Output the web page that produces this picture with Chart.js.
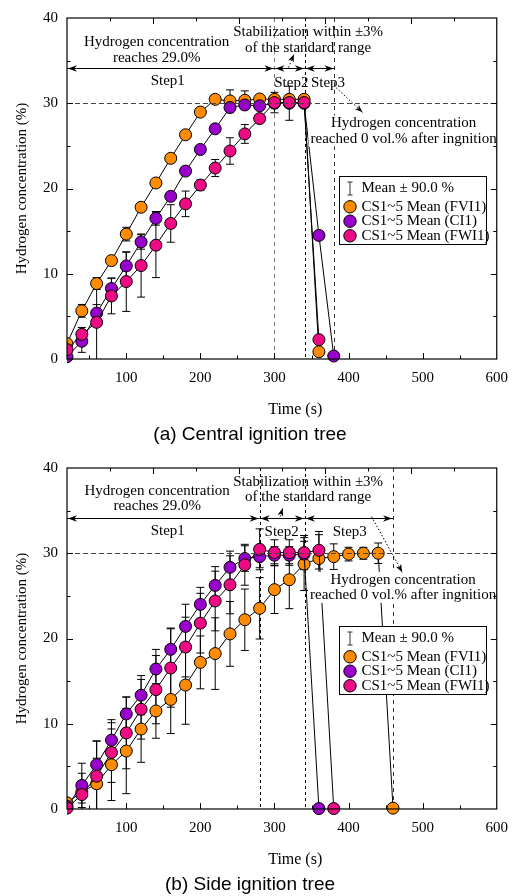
<!DOCTYPE html>
<html>
<head>
<meta charset="utf-8">
<script src="https://cdn.jsdelivr.net/npm/chart.js@4.4.1/dist/chart.umd.min.js"></script>
<style>
  html, body { margin: 0; padding: 0; background: #fff; }
  canvas { display: block; }
</style>
</head>
<body>
<canvas id="chartA" width="518" height="450"></canvas>
<canvas id="chartB" width="518" height="446"></canvas>
<script>
// ---- data ----
const seriesLabels = ["CS1~5 Mean (FVI1)", "CS1~5 Mean (CI1)", "CS1~5 Mean (FWI1)"];
const seriesColors = ["#ff8c00", "#9900cc", "#ee0a84"];
const errorLabel = "Mean \u00b1 90.0 %";

const xTickLabels = [100, 200, 300, 400, 500, 600];
const xMinorTicks = [50, 100, 150, 200, 250, 300, 350, 400, 450, 500, 550];
const yTickLabels = [0, 10, 20, 30, 40];
const yMinorTicks = [5, 10, 15, 20, 25, 30, 35];

// (a) central ignition tree
const timeA_FVI1 = [20, 40, 60, 80, 100, 120, 140, 160, 180, 200, 220, 240, 260, 280, 300, 320, 340, 360];
const meanA_FVI1 = [1.8, 5.65, 8.85, 11.54, 14.65, 17.8, 20.65, 23.54, 26.3, 28.96, 30.46, 30.27, 30.35, 30.5, 30.46, 30.46, 30.46, 0.85];
const errA_FVI1 = [0.4, 0.75, 0.7, 0.3, 0.8, 0.3, 0.3, 0.3, 0.3, 0.3, 0.3, 1.3, 1.1, 0.3, 0.4, 0.5, 0.3, 0.3];

const timeA_CI1 = [20, 40, 60, 80, 100, 120, 140, 160, 180, 200, 220, 240, 260, 280, 300, 320, 340, 360, 380];
const meanA_CI1 = [0.27, 2.08, 5.38, 8.27, 10.92, 13.73, 16.5, 19.08, 22.04, 24.58, 27.0, 29.5, 29.8, 29.7, 30.0, 30.0, 30.0, 14.5, 0.35];
const errA_CI1 = [0.3, 1.3, 1.0, 1.2, 1.6, 0.85, 0.8, 0.3, 0.3, 0.3, 0.3, 0.6, 0.5, 0.3, 0.4, 2.0, 0.3, 0.3, 0.3];

const timeA_FWI1 = [20, 40, 60, 80, 100, 120, 140, 160, 180, 200, 220, 240, 260, 280, 300, 320, 340, 360];
const meanA_FWI1 = [1.1, 2.9, 4.3, 7.4, 9.08, 10.96, 13.35, 15.9, 18.2, 20.4, 22.4, 24.4, 26.4, 28.2, 30.08, 30.08, 30.08, 2.27];
const errA_FWI1 = [0.3, 0.8, 4.5, 2.1, 3.5, 3.7, 3.8, 2.2, 1.5, 0.6, 1.0, 1.55, 1.1, 0.3, 1.2, 0.3, 0.3, 0.3];

// (b) side ignition tree
const timeB_FVI1 = [20, 40, 60, 80, 100, 120, 140, 160, 180, 200, 220, 240, 260, 280, 300, 320, 340, 360, 380, 400, 420, 440, 460];
const meanB_FVI1 = [0.73, 2.0, 2.96, 5.19, 6.8, 9.38, 11.5, 12.85, 14.54, 17.2, 18.23, 20.54, 22.2, 23.54, 25.73, 26.9, 28.73, 29.38, 29.6, 29.9, 30.0, 30.0, 0.1];
const errB_FVI1 = [0.5, 1.3, 3.0, 4.2, 5.0, 3.9, 3.2, 4.0, 4.6, 3.1, 4.2, 3.8, 3.6, 3.6, 2.8, 3.4, 3.1, 2.8, 1.5, 0.8, 0.7, 1.2, 0.3];

const timeB_CI1 = [20, 40, 60, 80, 100, 120, 140, 160, 180, 200, 220, 240, 260, 280, 300, 320, 340, 360];
const meanB_CI1 = [0.3, 2.77, 5.2, 8.08, 11.15, 13.35, 16.42, 18.73, 21.42, 24.0, 26.23, 28.35, 29.38, 29.6, 29.77, 29.77, 29.9, 0.05];
const errB_CI1 = [0.3, 2.6, 2.8, 2.4, 2.0, 2.3, 2.3, 2.5, 2.6, 2.0, 2.2, 1.9, 1.5, 1.3, 1.0, 1.0, 1.5, 0.3];

const timeB_FWI1 = [20, 40, 60, 80, 100, 120, 140, 160, 180, 200, 220, 240, 260, 280, 300, 320, 340, 360, 380];
const meanB_FWI1 = [0.1, 1.69, 3.85, 6.62, 8.92, 11.7, 14.0, 16.54, 19.0, 21.8, 24.4, 26.3, 28.65, 30.46, 30.08, 30.08, 30.08, 30.35, 0.05];
const errB_FWI1 = [0.3, 2.5, 4.1, 3.5, 4.2, 3.5, 4.0, 4.6, 3.5, 3.5, 3.5, 3.4, 2.4, 2.4, 1.5, 1.5, 2.0, 2.2, 0.3];

const SERIF = '"Liberation Serif", "Times New Roman", serif';

function line(ctx, x0, y0, x1, y1) {
  ctx.beginPath();
  ctx.moveTo(x0, y0);
  ctx.lineTo(x1, y1);
  ctx.stroke();
}

function arrowHead(ctx, x, y, dir, len, half) {
  ctx.save();
  ctx.translate(x, y);
  ctx.rotate(dir);
  ctx.beginPath();
  ctx.moveTo(0, 0);
  ctx.lineTo(-len, -half);
  ctx.lineTo(-len * 0.7, 0);
  ctx.lineTo(-len, half);
  ctx.closePath();
  ctx.fill();
  ctx.restore();
}

// error bars, step lines, notes, legend and the boxed frame
const ignitionFigure = {
  id: "ignitionFigure",
  beforeDatasetsDraw(chart, args, o) {
    const { ctx, chartArea: a } = chart;
    const xs = chart.scales.x, ys = chart.scales.y;
    ctx.save();
    ctx.lineWidth = 1;
    o.stepLines.forEach((s) => {
      const px = Math.round(xs.getPixelForValue(s.t)) + 0.5;
      ctx.strokeStyle = s.color;
      ctx.setLineDash(s.dash);
      line(ctx, px, a.top, px, a.bottom);
    });
    ctx.setLineDash([]);
    ctx.beginPath();
    ctx.rect(a.left, a.top - 20, a.right - a.left + 20, a.bottom - a.top + 40);
    ctx.clip();
    ctx.strokeStyle = "#000";
    chart.data.datasets.forEach((ds, di) => {
      const err = o.errors[di];
      ds.data.forEach((p, i) => {
        const e = err[i];
        if (!e) return;
        const px = xs.getPixelForValue(p.x);
        const yt = ys.getPixelForValue(p.y + e);
        const yb = ys.getPixelForValue(Math.max(p.y - e, 0));
        line(ctx, px, yt, px, yb);
        line(ctx, px - 4, yt, px + 4, yt);
        if (p.y - e > 0) line(ctx, px - 4, yb, px + 4, yb);
      });
    });
    ctx.restore();
  },
  afterDatasetsDraw(chart, args, o) {
    const { ctx, chartArea: a } = chart;
    const xs = chart.scales.x, ys = chart.scales.y;
    const X = (t) => xs.getPixelForValue(t);
    const Y = (v) => ys.getPixelForValue(v);
    ctx.save();

    // 30 % reference level
    ctx.strokeStyle = "#444";
    ctx.lineWidth = 1;
    ctx.setLineDash([5, 3]);
    const ry = Math.round(Y(o.refLevel)) + 0.5;
    line(ctx, a.left, ry, a.right, ry);
    ctx.setLineDash([]);

    // text notes
    ctx.font = "15px " + SERIF;
    ctx.textAlign = "center";
    ctx.textBaseline = "middle";
    o.notes.forEach((n) => {
      const cx = X(n.t), cy = Y(n.v);
      const lh = 15.5;
      const y0 = cy - ((n.lines.length - 1) * lh) / 2;
      if (n.bg) {
        const w = Math.max(...n.lines.map((s) => ctx.measureText(s).width)) + 4;
        ctx.fillStyle = "#fff";
        ctx.fillRect(cx - w / 2, y0 - lh / 2, w, lh * n.lines.length);
      }
      ctx.fillStyle = "#000";
      n.lines.forEach((s, k) => ctx.fillText(s, cx, y0 + k * lh));
    });

    // step span arrows
    ctx.strokeStyle = "#000";
    ctx.fillStyle = "#000";
    const ay = Math.round(Y(o.spanLevel)) + 0.5;
    o.spans.forEach(([t0, t1]) => {
      const x0 = X(t0), x1 = X(t1);
      line(ctx, x0, ay, x1, ay);
      arrowHead(ctx, x0 + 1, ay, Math.PI, 9, 3.2);
      arrowHead(ctx, x1 - 1, ay, 0, 9, 3.2);
    });

    // dotted pointers
    o.pointers.forEach((p) => {
      const x0 = X(p.from[0]), y0 = Y(p.from[1]);
      const x1 = X(p.to[0]), y1 = Y(p.to[1]);
      ctx.setLineDash([1.5, 2]);
      line(ctx, x0, y0, x1, y1);
      ctx.setLineDash([]);
      arrowHead(ctx, x1, y1, Math.atan2(y1 - y0, x1 - x0), 8, 3);
    });

    // legend box
    const L = o.legend;
    const lx = Math.round(X(L.from[0])) + 0.5, ly = Math.round(Y(L.from[1])) + 0.5;
    const lr = Math.round(X(L.to[0])) + 0.5, lb = Math.round(Y(L.to[1])) + 0.5;
    ctx.fillStyle = "#fff";
    ctx.fillRect(lx, ly, lr - lx, lb - ly);
    ctx.strokeStyle = "#000";
    ctx.strokeRect(lx, ly, lr - lx, lb - ly);
    ctx.font = "15px " + SERIF;
    ctx.textAlign = "left";
    const mx = lx + 10.5;
    const r0 = ly + L.rows[0];
    ctx.strokeStyle = "#333";
    line(ctx, mx, r0 - 6.5, mx, r0 + 6.5);
    line(ctx, mx - 2.5, r0 - 6.5, mx + 2.5, r0 - 6.5);
    line(ctx, mx - 2.5, r0 + 6.5, mx + 2.5, r0 + 6.5);
    ctx.fillStyle = "#000";
    ctx.fillText(errorLabel, lx + 22, r0);
    chart.data.datasets.forEach((ds, i) => {
      const yy = ly + L.rows[i + 1];
      ctx.beginPath();
      ctx.arc(mx, yy, 6.2, 0, Math.PI * 2);
      ctx.fillStyle = ds.pointBackgroundColor;
      ctx.fill();
      ctx.strokeStyle = "#000";
      ctx.stroke();
      ctx.fillStyle = "#000";
      ctx.fillText(ds.label, lx + 22, yy);
    });

    // frame with inward ticks on all four sides
    ctx.strokeStyle = "#000";
    ctx.lineWidth = 1.2;
    ctx.strokeRect(a.left, a.top, a.right - a.left, a.bottom - a.top);
    ctx.lineWidth = 1;
    xMinorTicks.forEach((t) => {
      const px = Math.round(X(t)) + 0.5;
      line(ctx, px, a.bottom, px, a.bottom - (t % 100 === 0 ? 6 : 3.5));
    });
    for (let k = 1; k < 10; k++) {
      const px = Math.round(a.left + ((a.right - a.left) * k) / 10) + 0.5;
      line(ctx, px, a.top, px, a.top + (k % 2 === 0 ? 6 : 3.5));
    }
    yMinorTicks.forEach((v) => {
      const py = Math.round(Y(v)) + 0.5;
      const len = v % 10 === 0 ? 6 : 3.5;
      line(ctx, a.left, py, a.left + len, py);
      line(ctx, a.right, py, a.right - len, py);
    });

    // x axis title
    ctx.font = "16px " + SERIF;
    ctx.textAlign = "center";
    ctx.fillStyle = "#000";
    ctx.fillText(o.xTitle.text, X(o.xTitle.t), a.bottom + o.xTitle.dy);
    ctx.restore();
  },
};

function makePanel(canvasId, p) {
  const datasets = p.series.map((s, i) => ({
    label: seriesLabels[i],
    data: s.time.map((t, k) => ({ x: t, y: s.mean[k] })),
    borderColor: "#000",
    borderWidth: 1,
    pointBackgroundColor: seriesColors[i],
    pointBorderColor: "#000",
    pointBorderWidth: 1,
    pointRadius: 6,
    tension: 0,
    order: 3 - i,
    clip: { left: 0, top: false, right: false, bottom: false },
  }));

  return new Chart(document.getElementById(canvasId), {
    type: "line",
    data: { datasets },
    options: {
      responsive: false,
      animation: false,
      layout: { padding: { top: 12, right: 18, left: 0, bottom: 0 } },
      plugins: {
        legend: { display: false },
        tooltip: { enabled: false },
        title: {
          display: true,
          position: "bottom",
          text: p.caption,
          color: "#000",
          font: { family: '"Liberation Sans", Arial, sans-serif', size: 19, weight: "normal", lineHeight: 1 },
          padding: { top: 0, bottom: p.captionPad },
        },
        ignitionFigure: {
          errors: p.series.map((s) => s.err),
          stepLines: p.stepLines,
          refLevel: 30,
          spanLevel: 34.12,
          spans: p.spans,
          notes: p.notes,
          pointers: p.pointers,
          legend: { from: [387, 21.5], to: [586, 13.5], rows: [12, 30.3, 44.7, 59.3] },
          xTitle: { text: "Time (s)", t: 328, dy: 51 },
        },
      },
      scales: {
        x: {
          type: "linear",
          min: 20,
          max: 600,
          afterBuildTicks: (axis) => {
            axis.ticks = xTickLabels.map((v) => ({ value: v }));
          },
          afterFit: (scale) => {
            scale.height = 66.5;
          },
          grid: { display: false, drawTicks: false },
          border: { display: false },
          ticks: { color: "#000", font: { family: SERIF, size: 15 }, padding: 10, maxRotation: 0, autoSkip: false },
        },
        y: {
          min: 0,
          max: 40,
          afterBuildTicks: (axis) => {
            axis.ticks = yTickLabels.map((v) => ({ value: v }));
          },
          afterFit: (scale) => {
            scale.width = 67;
          },
          grid: { display: false, drawTicks: false },
          border: { display: false },
          ticks: { color: "#000", font: { family: SERIF, size: 15 }, padding: 9 },
          title: {
            display: true,
            text: "Hydrogen concentration (%)",
            color: "#000",
            font: { family: SERIF, size: 15 },
            padding: { top: 13, bottom: 0 },
          },
        },
      },
    },
    plugins: [ignitionFigure],
  });
}

makePanel("chartA", {
  caption: "(a) Central ignition tree",
  captionPad: 5.5,
  series: [
    { time: timeA_FVI1, mean: meanA_FVI1, err: errA_FVI1 },
    { time: timeA_CI1, mean: meanA_CI1, err: errA_CI1 },
    { time: timeA_FWI1, mean: meanA_FWI1, err: errA_FWI1 },
  ],
  stepLines: [
    { t: 300, color: "#777", dash: [4, 4] },
    { t: 341, color: "#000", dash: [3, 3] },
    { t: 381, color: "#333", dash: [4, 4] },
  ],
  spans: [[20, 300], [300, 341], [341, 381]],
  notes: [
    { t: 141, v: 36.25, lines: ["Hydrogen concentration", "reaches 29.0%"] },
    { t: 156, v: 32.65, lines: ["Step1"] },
    { t: 345.5, v: 37.44, lines: ["Stabilization within \u00b13%", "of the standard range"] },
    { t: 322.8, v: 32.4, lines: ["Step2"] },
    { t: 372.3, v: 32.4, lines: ["Step3"] },
    { t: 474.3, v: 26.75, lines: ["Hydrogen concentration", "reached 0 vol.% after ingnition"], bg: true },
  ],
  pointers: [
    { from: [318.9, 34.19], to: [326.3, 35.74] },
    { from: [383.3, 31.81], to: [418.9, 28.93] },
  ],
});

makePanel("chartB", {
  caption: "(b) Side ignition tree",
  captionPad: 1.5,
  series: [
    { time: timeB_FVI1, mean: meanB_FVI1, err: errB_FVI1 },
    { time: timeB_CI1, mean: meanB_CI1, err: errB_CI1 },
    { time: timeB_FWI1, mean: meanB_FWI1, err: errB_FWI1 },
  ],
  stepLines: [
    { t: 280, color: "#000", dash: [3, 3] },
    { t: 341, color: "#000", dash: [3, 3] },
    { t: 460, color: "#333", dash: [4, 4] },
  ],
  spans: [[20, 280], [280, 341], [341, 460]],
  notes: [
    { t: 141.7, v: 36.43, lines: ["Hydrogen concentration", "reaches 29.0%"] },
    { t: 156, v: 32.65, lines: ["Step1"] },
    { t: 345.5, v: 37.5, lines: ["Stabilization within \u00b13%", "of the standard range"] },
    { t: 309.7, v: 32.5, lines: ["Step2"] },
    { t: 401.6, v: 32.5, lines: ["Step3"] },
    { t: 473.6, v: 26.0, lines: ["Hydrogen concentration", "reached 0 vol.% after ingnition"], bg: true },
  ],
  pointers: [
    { from: [307.6, 34.3], to: [311.1, 35.27] },
    { from: [431, 34.3], to: [472.5, 27.77] },
  ],
});
</script>
</body>
</html>
